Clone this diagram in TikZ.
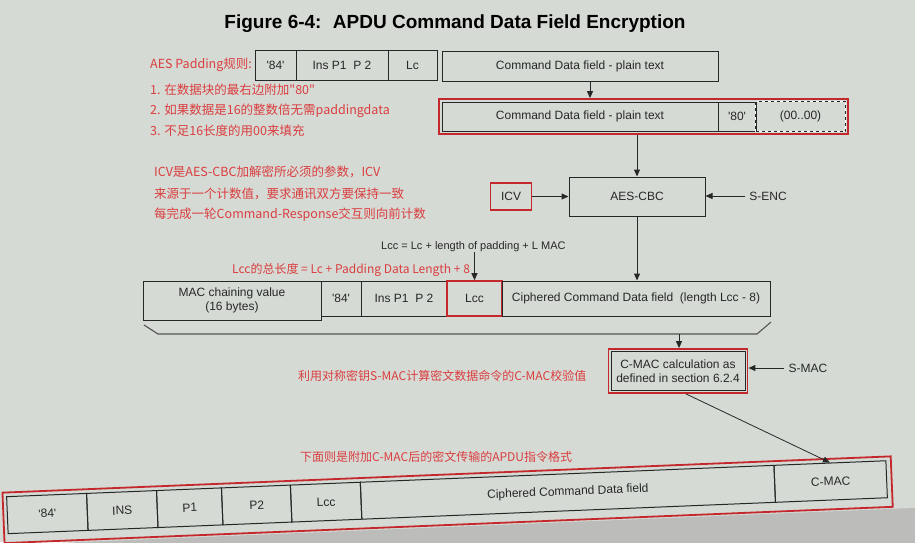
\documentclass[tikz,border=0pt]{standalone}
\usepackage{fontspec}
\setmainfont{Liberation Sans}
\newfontfamily\cjk{Noto Sans CJK SC}
\usetikzlibrary{arrows.meta,fit}
\definecolor{bg}{RGB}{214,218,212}
\definecolor{bottomgray}{RGB}{188,189,186}
\definecolor{redl}{RGB}{196,40,44}
\definecolor{redt}{RGB}{218,62,64}
\definecolor{ink}{RGB}{38,40,40}
\begin{document}
\begin{tikzpicture}[x=1pt,y=-1pt,
 cell/.style={draw=ink, line width=1pt, inner sep=0pt, font=\fontsize{12}{14.5}\selectfont, text=ink, align=center},
 redbox/.style={cell, draw=redl, line width=1.6pt},
 frame/.style={draw=redl, line width=1.8pt, inner sep=2.5pt},
 note/.style={text=redt, font=\cjk\fontsize{12.5}{15}\selectfont, anchor=west, inner sep=0pt},
 arr/.style={-{Triangle[length=7pt,width=6pt]}, draw=ink, line width=1pt},
 lbl/.style={text=ink, font=\fontsize{12}{14}\selectfont, inner sep=0pt}]

\fill[bg] (0,0) rectangle (915,542);
\useasboundingbox (0,0) rectangle (915,542);

% title
\node[font=\bfseries\fontsize{19}{22}\selectfont, text=black] (title) at (455,24) {Figure 6-4:\hspace{0.6em}APDU Command Data Field Encryption};

% top row
\node[cell, minimum width=41, minimum height=30] (t84) at (275.5,65) {\textquotesingle 84\textquotesingle};
\node[cell, minimum width=92, minimum height=30] (tins) at (342,65) {Ins P1\ \ P 2};
\node[cell, minimum width=49, minimum height=30] (tlc) at (412.5,65) {Lc};
\node[cell, minimum width=276, minimum height=30] (tcmd) at (580,66) {Command Data field - plain text};

% second row
\node[cell, minimum width=276, minimum height=29] (scmd) at (580,116.5) {Command Data field - plain text};
\node[cell, minimum width=38, minimum height=29] (s80) at (737,116.5) {\textquotesingle 80\textquotesingle};
\node[cell, draw=none, minimum width=89, minimum height=29] (s00) at (800.5,116.5) {(00..00)};
\draw[white, line width=1.2pt] (s00.north west) rectangle (s00.south east);
\draw[ink, line width=1.2pt, dash pattern=on 3pt off 3pt] (s00.north west) rectangle (s00.south east);
\node[frame, fit=(scmd)(s00)] (sframe) {};
\draw[arr] ([xshift=10pt]tcmd.south) -- ([xshift=10pt]tcmd.south |- sframe.north);

% AES-CBC
\node[cell, minimum width=136, minimum height=39] (aes) at (637,196.5) {AES-CBC};
\node[redbox, minimum width=41, minimum height=27] (icv) at (511,196.5) {ICV};
\node[lbl, inner sep=4pt] (senc) at (768,196) {S-ENC};
\draw[arr] (aes.north |- sframe.south) -- (aes.north);
\draw[arr] (icv) -- (aes);
\draw[arr] (senc.west) -- (senc.west -| aes.east);

% red notes
\node[note] (n1) at (150,65) {AES Padding规则:};
\node[note] (n2) at (150,90) {1. 在数据块的最右边附加"80"};
\node[note] (n3) at (150,111) {2. 如果数据是16的整数倍无需paddingdata};
\node[note] (n4) at (150,131) {3. 不足16长度的用00来填充};
\node[note] (n5) at (154,172) {ICV是AES-CBC加解密所必须的参数，ICV};
\node[note] (n6) at (154,194) {来源于一个计数值，要求通讯双方要保持一致};
\node[note] (n7) at (154,215) {每完成一轮Command-Response交互则向前计数};

% Lcc labels
\node[lbl, font=\fontsize{11}{13}\selectfont, anchor=west] (lcclbl) at (381,247) {Lcc = Lc + length of padding + L MAC};
\node[note, font=\cjk\fontsize{12}{14}\selectfont] (n8) at (232,270) {Lcc的总长度 = Lc + Padding Data Length + 8};

% third row
\node[cell, minimum width=178, minimum height=39] (mac) at (232,300.5) {MAC chaining value\\(16 bytes)};
\node[cell, minimum width=40, minimum height=35] (r84) at (341,298.5) {\textquotesingle 84\textquotesingle};
\node[cell, minimum width=86, minimum height=35] (rins) at (404,298.5) {Ins P1\ \ P 2};
\node[redbox, minimum width=55, minimum height=35] (rlcc) at (474.5,298.5) {Lcc};
\node[cell, minimum width=268, minimum height=35] (rciph) at (636,298.5) {Ciphered Command Data field\ \ (length Lcc - 8)};
\draw[arr] (rlcc.north |- lcclbl.south) -- (rlcc.north);
\draw[arr] (aes.south) -- (aes.south |- rciph.north);

% brace under third row
\draw[gray!65!black, line width=1.1pt] (144,325) -- (158,334) -- (757,334) -- (771,322);
\coordinate (bmid) at (679,334);

% C-MAC calculation
\node[cell, minimum width=134, minimum height=39] (cmac) at (678,371) {C-MAC calculation as\\defined in section 6.2.4};
\node[frame, fit=(cmac), inner sep=2pt] (cframe) {};
\draw[arr] (bmid) -- (bmid |- cframe.north);
\node[lbl, inner sep=4pt] (smac) at (808,368) {S-MAC};
\draw[arr] (smac.west) -- (smac.west -| cframe.east);
\node[note, font=\cjk\fontsize{12}{14}\selectfont] (n9) at (298,376) {利用对称密钥S-MAC计算密文数据命令的C-MAC校验值};
\node[note, font=\cjk\fontsize{12}{14}\selectfont] (n10) at (300,457) {下面则是附加C-MAC后的密文传输的APDU指令格式};

% bottom APDU table (photo is slightly tilted)
\begin{scope}[rotate around={2.34:(447,497.2)}, transform shape]
 \fill[bottomgray] (-80,527) rectangle (1000,640);
 \node[cell, minimum width=80, minimum height=37] (b84) at (47,497.2) {\textquotesingle 84\textquotesingle};
 \node[cell, minimum width=70, minimum height=37] (bins) at (122,497.2) {INS};
 \node[cell, minimum width=65, minimum height=37] (bp1) at (189.5,497.2) {P1};
 \node[cell, minimum width=69, minimum height=37] (bp2) at (256.5,497.2) {P2};
 \node[cell, minimum width=70, minimum height=37] (blcc) at (326,497.2) {Lcc};
 \node[cell, minimum width=414, minimum height=37] (bciph) at (568,497.2) {Ciphered Command Data field};
 \node[cell, minimum width=112, minimum height=37] (bcmac) at (831,497.2) {C-MAC};
 \draw[redl, line width=1.8pt] (3,474.5) rectangle (892,525);
\end{scope}
\draw[arr, line width=0.8pt] ([xshift=8pt]cframe.south) -- (bcmac.north);
\end{tikzpicture}
\end{document}
